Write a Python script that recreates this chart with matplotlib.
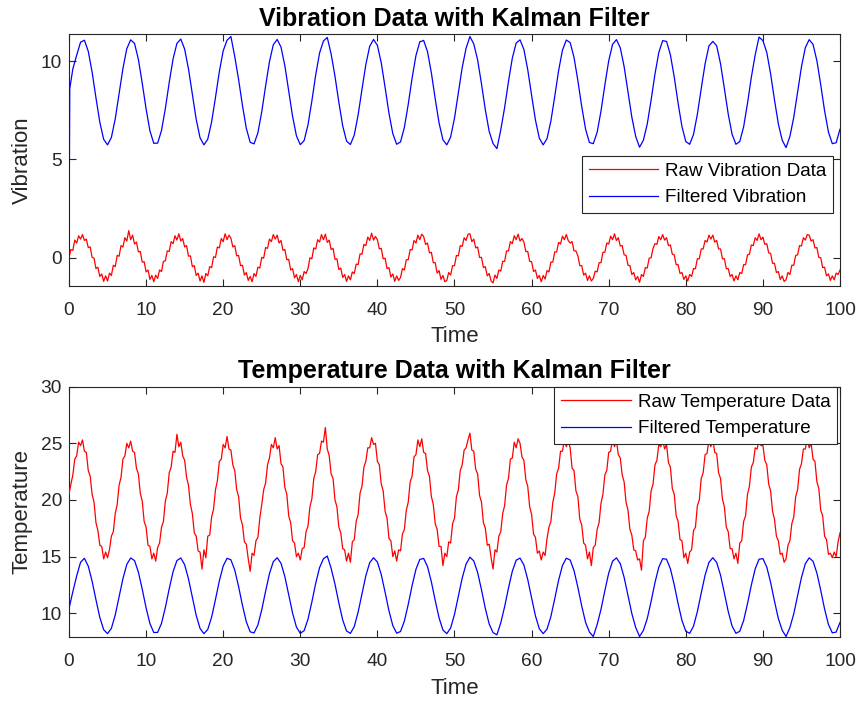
import numpy as np
import matplotlib
matplotlib.use("Agg")
import matplotlib.pyplot as plt

plt.rcParams['font.family'] = ['Liberation Sans', 'DejaVu Sans']

# ---------------- data ----------------
# raw signals sampled every 0.25 time units, t = 0 .. 100
raw_step = 0.25
raw_vibration = [
    0.00, 0.42, 0.38, 0.90, 0.75, 1.12, 0.95, 1.18, 0.88, 0.95, 0.52, 0.55, 0.02, -0.02, -0.55, -0.48, -0.95, -0.82, -1.20, -0.92,
    -1.18, -0.78, -0.90, -0.38, -0.45, 0.12, 0.08, 0.62, 0.55, 1.02, 0.85, 1.38, 0.92, 1.15, 0.70, 0.80, 0.30, 0.32, -0.22, -0.20,
    -0.72, -0.62, -1.10, -0.90, -1.22, -0.88, -1.05, -0.62, -0.70, -0.18, -0.15, 0.35, 0.32, 0.82, 0.72, 1.12, 0.90, 1.22, 0.85, 0.98,
    0.55, 0.62, 0.08, 0.10, -0.45, -0.40, -0.90, -0.78, -1.18, -0.92, -1.25, -0.80, -0.92, -0.45, -0.50, 0.05, 0.02, 0.55, 0.50, 0.98,
    0.82, 1.22, 0.92, 1.15, 1.00, 0.55, 0.62, 0.10, 0.12, -0.40, -0.38, -0.88, -0.75, -1.15, -0.95, -1.22, -0.80, -0.95, -0.48, -0.52,
    0.02, -0.02, 0.52, 0.48, 0.95, 0.82, 1.18, 0.95, 1.15, 0.75, 0.88, 0.38, 0.42, -0.10, -0.08, -0.62, -0.55, -1.02, -0.85, -1.22,
    -0.90, -1.12, -0.70, -0.80, -0.55, 0.00, -0.05, 0.50, 0.45, 0.92, 0.80, 1.18, 0.92, 1.20, 0.78, 0.90, 0.42, 0.48, -0.08, -0.05,
    -0.60, -0.52, -1.00, -0.85, -1.20, -0.92, -1.12, -0.72, -0.80, -0.32, -0.35, 0.20, 0.18, 0.68, 0.62, 1.05, 0.88, 1.25, 0.90, 1.08,
    0.92, 0.45, 0.48, -0.05, -0.02, -0.55, -0.50, -0.98, -0.82, -1.20, -0.92, -1.15, -1.00, -0.55, -0.62, -0.10, -0.10, 0.42, 0.40, 0.88,
    0.75, 1.15, 0.92, 1.20, 1.08, 0.68, 0.75, 0.25, 0.28, -0.25, -0.25, -0.78, -0.65, -1.10, -0.90, -1.22, -1.15, -0.75, -0.88, -0.40,
    -0.40, 0.12, 0.10, 0.62, 0.58, 1.02, 0.88, 1.20, 1.22, 0.82, 0.95, 0.50, 0.55, 0.02, 0.02, -0.50, -0.45, -0.92, -0.80, -1.18,
    -1.28, -0.88, -1.05, -0.62, -0.68, -0.18, -0.18, 0.35, 0.35, 0.82, 0.72, 1.12, 0.92, 1.20, 0.85, 0.98, 0.80, 0.32, 0.32, -0.18,
    -0.20, -0.70, -0.62, -1.05, -0.90, -1.22, -0.90, -1.08, -0.65, -0.72, -0.22, -0.22, 0.30, 0.30, 0.78, 0.70, 1.10, 0.92, 1.18, 0.88,
    0.75, 0.82, 0.35, 0.35, 0.10, -0.40, -0.40, -0.88, -0.78, -1.15, -0.92, -1.18, -1.05, -0.68, -0.72, -0.25, -0.25, 0.28, 0.28, 0.75,
    0.70, 1.10, 0.92, 1.22, 0.88, 1.02, 0.60, 0.62, 0.15, 0.12, -0.38, -0.40, -0.85, -0.75, -1.12, -0.95, -1.25, -0.85, -0.95, -0.50,
    -0.52, -0.02, 0.00, 0.48, 0.72, 0.68, 1.08, 0.92, 1.18, 0.90, 1.02, 0.62, 0.65, 0.18, 0.15, -0.35, -0.35, -0.80, -0.75, -1.10,
    -0.92, -1.18, -0.85, -0.95, -0.55, -0.55, -0.05, -0.05, 0.45, 0.45, 0.88, 0.80, 1.15, 0.95, 1.15, 0.80, 0.88, 0.45, 0.45, -0.05,
    -0.05, -0.55, -0.55, -0.95, -0.85, -1.18, -0.92, -1.12, -0.75, -0.80, -0.35, -0.35, 0.15, 0.18, 0.65, 0.62, 1.02, 0.88, 1.22, 0.92,
    1.05, 0.68, 0.72, 0.25, 0.22, -0.28, -0.28, -0.75, -0.70, -1.10, -0.92, -1.20, -1.12, -0.75, -0.85, -0.38, -0.38, 0.12, 0.15, 0.62,
    0.60, 1.02, 0.90, 1.18, 1.15, 0.85, 0.92, 0.50, 0.52, 0.02, 0.00, -0.50, -0.48, -0.92, -0.82, -1.15, -0.92, -1.12, -0.78, -0.85,
    -0.62,
]
raw_temperature = [
    20.5, 21.4, 22.2, 23.6, 23.9, 25.1, 24.8, 25.3, 24.3, 24.2, 22.6, 22.1, 20.5, 19.8, 18.0, 17.3, 16.0, 15.9, 14.8, 15.4,
    14.9, 15.6, 16.8, 17.2, 18.8, 19.6, 21.3, 22.0, 23.6, 23.9, 25.0, 24.6, 25.2, 24.3, 24.2, 22.8, 22.3, 20.6, 19.9, 18.1,
    17.6, 16.0, 15.9, 14.8, 15.3, 14.6, 15.8, 16.2, 17.6, 18.1, 19.9, 20.6, 22.4, 22.9, 24.3, 24.2, 25.8, 24.7, 25.1, 23.9,
    23.5, 22.0, 21.3, 19.6, 18.8, 17.1, 16.8, 15.5, 15.4, 13.9, 15.6, 14.9, 16.8, 16.9, 18.5, 19.2, 20.9, 21.7, 23.4, 23.6,
    24.9, 24.6, 25.6, 24.5, 24.4, 23.1, 22.6, 20.9, 20.3, 18.4, 17.8, 16.3, 16.1, 14.8, 13.7, 15.3, 15.1, 16.4, 16.7, 18.4,
    19.6, 20.9, 21.5, 23.1, 23.7, 24.9, 24.6, 25.5, 24.5, 24.8, 23.2, 22.9, 21.1, 20.5, 18.6, 18.0, 16.4, 16.2, 15.0, 15.3,
    14.7, 15.7, 15.8, 17.2, 17.7, 19.4, 20.1, 21.9, 22.5, 24.0, 24.1, 25.2, 25.1, 26.4, 24.5, 23.9, 22.3, 21.9, 20.0, 19.4,
    17.6, 17.1, 15.7, 15.6, 14.6, 15.3, 14.5, 16.3, 16.5, 18.1, 18.7, 20.6, 21.2, 22.9, 23.4, 24.6, 24.6, 25.5, 24.9, 25.0,
    23.4, 23.1, 21.4, 20.8, 19.0, 18.4, 16.6, 16.4, 15.0, 15.5, 14.6, 15.6, 15.5, 17.0, 17.4, 19.1, 19.8, 21.6, 22.1, 23.8,
    24.0, 25.3, 24.7, 25.4, 24.2, 24.1, 22.6, 22.1, 20.3, 19.6, 17.9, 17.4, 15.9, 15.9, 14.2, 15.3, 15.0, 16.3, 16.2, 17.9,
    18.4, 20.3, 20.9, 22.6, 23.1, 24.4, 24.6, 25.3, 25.9, 24.4, 24.3, 22.7, 22.3, 20.4, 19.8, 18.0, 17.5, 16.0, 16.1, 14.9,
    13.9, 15.6, 15.4, 16.8, 17.2, 18.8, 19.5, 21.3, 21.9, 23.6, 23.7, 25.1, 24.6, 25.4, 25.0, 23.8, 23.5, 21.8, 21.2, 19.4,
    18.7, 17.0, 16.7, 15.3, 15.5, 14.7, 15.4, 15.1, 16.6, 17.6, 18.1, 19.8, 20.6, 22.3, 22.8, 24.3, 24.3, 25.3, 24.7, 25.2,
    24.6, 22.8, 22.6, 20.8, 20.3, 18.3, 17.8, 16.2, 16.0, 14.8, 15.4, 14.2, 15.8, 16.0, 17.4, 18.0, 19.7, 20.5, 22.2, 22.6,
    24.2, 24.3, 25.4, 24.7, 25.2, 24.0, 23.7, 22.2, 21.6, 19.8, 19.1, 17.4, 16.9, 15.6, 15.5, 14.7, 14.8, 13.8, 16.4, 16.7,
    18.4, 19.0, 20.8, 21.4, 23.1, 23.5, 24.9, 24.7, 25.3, 24.5, 24.9, 23.3, 22.9, 21.0, 20.5, 18.6, 18.1, 16.5, 16.4, 14.9,
    15.3, 14.4, 15.4, 15.6, 17.3, 17.6, 19.5, 20.0, 21.9, 22.4, 24.0, 24.1, 25.3, 24.7, 25.4, 24.2, 24.1, 22.4, 21.9, 20.1,
    19.4, 17.6, 17.2, 15.7, 15.7, 14.8, 15.3, 14.4, 16.2, 16.4, 18.1, 18.6, 20.5, 21.2, 22.9, 23.3, 24.6, 24.5, 25.3, 24.8,
    24.8, 23.5, 23.1, 21.4, 20.8, 19.0, 18.3, 16.8, 16.4, 15.2, 15.3, 14.5, 14.8, 16.0, 16.4, 17.9, 18.5, 20.3, 20.9, 22.7,
    23.2, 24.5, 24.5, 25.4, 24.6, 25.0, 23.6, 23.4, 21.6, 21.0, 19.1, 18.6, 16.8, 16.5, 15.2, 15.3, 14.9, 15.4, 15.0, 16.3,
    17.1,
]

# filtered signals: sample times and values
filt_time = [0.0, 0.1] + [0.5 * k for k in range(1, 201)]
filtered_vibration = [
    0.0, 8.6,
    9.60, 10.30, 10.96, 11.06, 10.50, 9.44, 8.13, 6.89, 6.02, 5.74, 6.12, 7.06, 8.33, 9.63, 10.63, 11.08, 10.90, 10.09,
    8.88, 7.57, 6.45, 5.82, 5.83, 6.47, 7.59, 8.91, 10.11, 10.90, 11.12, 10.61, 9.60, 8.31, 7.04, 6.10, 5.74, 6.03, 6.91, 8.15,
    9.46, 10.52, 11.06, 11.25, 10.23, 9.06, 7.74, 6.58, 5.87, 5.79, 6.35, 7.42, 8.73, 9.97, 10.83, 11.10, 10.71, 9.76, 8.49, 7.19,
    6.20, 5.75, 5.96, 6.76, 7.97, 9.30, 10.41, 11.02, 11.20, 10.36, 9.23, 7.91, 6.71, 5.93, 5.76, 6.24, 7.26, 8.56, 9.82, 10.75,
    11.10, 10.80, 9.91, 8.66, 7.35, 6.31, 5.77, 5.89, 6.63, 7.80, 9.13, 10.28, 10.98, 11.05, 10.48, 9.40, 8.08, 6.85, 6.00, 5.74,
    6.14, 7.10, 8.38, 9.67, 10.65, 11.25, 10.87, 10.06, 8.84, 7.52, 6.42, 5.81, 5.55, 6.50, 7.63, 8.96, 10.15, 10.92, 11.08, 10.59,
    9.56, 8.26, 7.00, 6.08, 5.74, 6.06, 6.95, 8.20, 9.51, 10.55, 11.07, 10.94, 10.19, 9.01, 7.69, 6.54, 5.86, 5.80, 6.38, 7.46,
    8.78, 10.01, 10.85, 11.09, 10.68, 9.72, 8.44, 7.15, 6.17, 5.62, 5.98, 6.80, 8.02, 9.34, 10.44, 11.04, 11.00, 10.32, 9.19, 7.86,
    6.67, 5.91, 5.77, 6.27, 7.30, 8.60, 9.86, 10.77, 11.00, 10.78, 9.87, 8.61, 7.31, 6.28, 5.77, 5.91, 6.66, 7.85, 9.18, 10.32,
    11.22, 11.04, 10.44, 9.35, 8.03, 6.81, 5.98, 5.60, 6.17, 7.14, 8.43, 9.71, 10.68, 11.09, 10.85, 10.02, 8.79, 7.47, 6.39, 5.80,
    5.85, 6.54,
]
filtered_temperature = [
    10.4, 10.7,
    11.90, 13.30, 14.50, 14.85, 14.16, 12.83, 11.19, 9.63, 8.55, 8.20, 8.67, 9.85, 11.44, 13.06, 14.31, 14.88, 14.65, 13.64, 12.13, 10.48,
    9.09, 8.30, 8.31, 9.11, 10.51, 12.16, 13.67, 14.65, 14.88, 14.29, 13.03, 11.41, 9.82, 8.66, 8.20, 8.57, 9.66, 11.22, 12.85, 14.17,
    14.85, 14.72, 13.81, 12.35, 10.70, 9.25, 8.36, 8.26, 8.96, 10.30, 11.94, 13.49, 14.56, 14.90, 14.41, 13.23, 11.63, 10.02, 8.78, 8.22,
    8.47, 9.48, 10.99, 12.65, 14.03, 14.81, 15.05, 13.97, 12.57, 10.91, 9.41, 8.44, 8.22, 8.83, 10.10, 11.72, 13.31, 14.46, 14.90, 14.52,
    13.42, 11.85, 10.22, 8.91, 8.24, 8.39, 9.31, 10.78, 12.44, 13.88, 14.75, 14.84, 14.12, 12.77, 11.13, 9.59, 8.52, 8.20, 8.70, 9.90,
    11.50, 13.11, 14.34, 14.95, 14.62, 13.60, 12.07, 10.42, 9.05, 8.29, 8.10, 9.15, 10.57, 12.22, 13.71, 14.68, 14.87, 14.26, 12.98, 11.35,
    9.77, 8.63, 8.20, 8.60, 9.71, 11.28, 12.91, 14.21, 14.86, 14.70, 13.77, 12.29, 10.64, 9.20, 8.34, 7.95, 9.00, 10.35, 12.00, 13.54,
    14.59, 14.89, 14.38, 13.17, 11.57, 9.97, 8.74, 7.95, 8.49, 9.53, 11.05, 12.71, 14.07, 14.82, 14.77, 13.93, 12.51, 10.85, 9.37, 8.41,
    8.23, 8.86, 10.15, 11.78, 13.36, 14.49, 14.90, 14.49, 13.37, 11.79, 10.16, 8.87, 8.23, 8.41, 9.36, 10.84, 12.49, 13.92, 14.77, 14.82,
    14.08, 12.72, 11.07, 9.54, 8.50, 7.95, 8.74, 9.95, 11.56, 13.16, 14.37, 14.89, 14.59, 13.55, 12.02, 10.37, 9.01, 8.27, 8.34, 9.19,
]

x_ticks = [0, 10, 20, 30, 40, 50, 60, 70, 80, 90, 100]
vib_ticks = [0, 5, 10]
temp_ticks = [10, 15, 20, 25, 30]

raw_time_v = np.arange(len(raw_vibration)) * raw_step
raw_time_t = np.arange(len(raw_temperature)) * raw_step
ft = np.array(filt_time)

# ---------------- figure ----------------
fig = plt.figure(figsize=(8.59, 7.02), dpi=100)
ax1 = fig.add_axes([0.0803, 0.5930, 0.8976, 0.3581])
ax2 = fig.add_axes([0.0803, 0.0922, 0.8976, 0.3570])

dark = '#262626'
TICK_FS = 13.8
LABEL_FS = 16
TITLE_FS = 18
LEG_FS = 13.6


def style(ax):
    ax.set_xlim(0, 100)
    ax.set_xticks(x_ticks)
    ax.tick_params(direction='in', length=5, width=0.8, colors=dark,
                   labelsize=TICK_FS, top=True, right=True)
    ax.tick_params(axis='x', pad=11.5)
    ax.tick_params(axis='y', pad=5)
    for sp in ax.spines.values():
        sp.set_color(dark)
        sp.set_linewidth(0.8)


def legend(ax, anchor):
    lg = ax.legend(loc='upper right', bbox_to_anchor=anchor, fontsize=LEG_FS,
                   handlelength=3.7, handletextpad=0.35, borderpad=0.35, labelspacing=0.5,
                   fancybox=False, framealpha=1, edgecolor=dark, borderaxespad=0)
    lg.get_frame().set_linewidth(0.8)
    for txt in lg.get_texts():
        txt.set_color('black')
    return lg


n = min(len(ft), len(filtered_vibration))
ax1.plot(raw_time_v, raw_vibration, color='#ff0000', lw=0.9, label='Raw Vibration Data', zorder=3)
ax1.plot(ft[:n], filtered_vibration[:n], color='#0000ff', lw=0.9, label='Filtered Vibration', zorder=3)
style(ax1)
ax1.set_ylim(-1.42, 11.36)
ax1.set_yticks(vib_ticks)
ax1.set_xlabel('Time', fontsize=LABEL_FS, color=dark, labelpad=5.5)
ax1.set_ylabel('Vibration', fontsize=LABEL_FS, color=dark, labelpad=6)
ax1.set_title('Vibration Data with Kalman Filter', fontsize=TITLE_FS, fontweight='bold', color='black', pad=6)
legend(ax1, (0.991, 0.516))

m = min(len(ft), len(filtered_temperature))
ax2.plot(raw_time_t, raw_temperature, color='#ff0000', lw=0.9, label='Raw Temperature Data', zorder=3)
ax2.plot(ft[:m], filtered_temperature[:m], color='#0000ff', lw=0.9, label='Filtered Temperature', zorder=3)
style(ax2)
ax2.set_ylim(7.88, 30)
ax2.set_yticks(temp_ticks)
ax2.set_xlabel('Time', fontsize=LABEL_FS, color=dark, labelpad=5.5)
ax2.set_ylabel('Temperature', fontsize=LABEL_FS, color=dark, labelpad=6)
ax2.set_title('Temperature Data with Kalman Filter', fontsize=TITLE_FS, fontweight='bold', color='black', pad=6)
legend(ax2, (0.996, 0.999))

fig.savefig('out.png', dpi=100)
